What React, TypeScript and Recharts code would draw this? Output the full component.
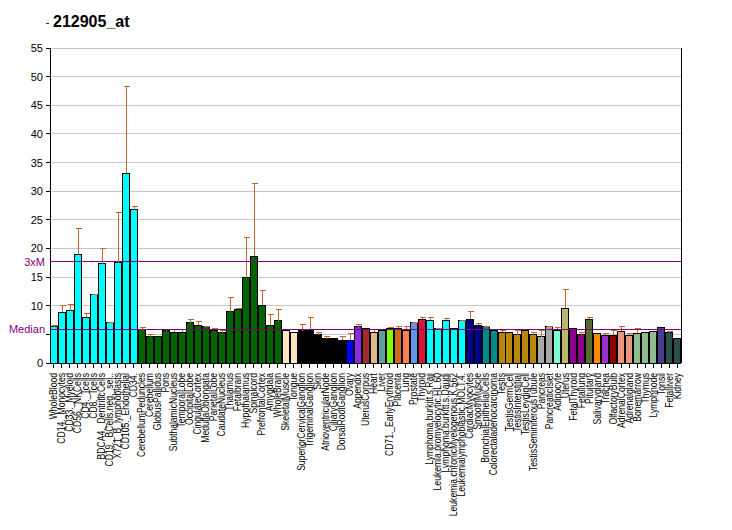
import React from "react";
import {
  BarChart,
  Bar,
  XAxis,
  YAxis,
  CartesianGrid,
  ReferenceLine,
} from "recharts";

// tissue names as printed under the bars
const tissues = [
  "WholeBlood", "CD14._Monocytes", "CD33._Myeloid", "CD56._NKCells", "CD4._Tcells",
  "CD8._Tcells", "BDCA4._DentriticCells", "CD19._BCells.neg._sel..", "X721_B_lymphoblasts",
  "CD105._Endothelial", "CD34.", "CerebellumPeduncles", "Cerebellum", "GlobusPallidus",
  "Pons", "SubthalamicNucleus", "TemporalLobe", "OccipitalLobe", "CingulateCortex",
  "MedullaOblongata", "ParietalLobe", "CaudateNucleus", "Thalamus", "Fetalbrain",
  "Hypothalamus", "Spinalcord", "PrefrontalCortex", "Amygdala", "WholeBrain",
  "SkeletalMuscle", "Tongue", "SuperiorCervicalGanglion", "TrigeminalGanglion", "Skin",
  "AtrioventricularNode", "CiliaryGanglion", "DorsalRootGanglion", "Ovary", "Appendix",
  "UterusCorpus", "Heart", "Liver", "CD71._EarlyErythroid", "Placenta", "Lung",
  "Prostate", "Thyroid", "Lymphoma.burkitt.s.Raji", "Leukemia.promyelocytic.HL.60",
  "Lymphoma.burkitt.s.Daudi", "Leukemia.chronicMyelogenous.K.562",
  "Leukemialymphoblastic.MOLT.4.", "CardiacMyocytes", "SmoothMuscle",
  "BronchialEpithelialCells", "Colorectaladenocarcinoma", "Testis", "TestisGermCell",
  "TestisInterstitial", "TestisLeydigCell", "TestisSeminiferousTubule", "Pancreas",
  "PancreaticIslet", "Adipocyte", "Uterus", "FetalThyroid", "Fetallung", "Pituitary",
  "Salivarygland", "Trachea", "OlfactoryBulb", "AdrenalCortex", "Adrenalgland",
  "Bonemarrow", "Thymus", "Lymphnode", "Tonsil", "Fetalliver", "Kidney",
];

// expression values (bar heights)
const values = [
  6.3, 8.9, 9.1, 18.9, 8.0, 11.9, 17.3, 7.0, 17.5, 33.1, 26.8,
  5.9, 4.55, 4.7, 5.6, 5.4, 5.4, 7.0, 6.6, 6.3, 5.75, 5.25, 8.95, 9.4,
  14.9, 18.65, 10.1, 6.6, 7.35,
  5.7, 5.4, 5.6, 5.75, 4.9, 4.2, 4.2, 4.0, 3.95, 6.3, 5.95, 5.4, 5.6,
  6.05, 6.05, 5.75, 7.0, 7.65, 7.45, 5.95, 7.45, 5.95, 7.35, 7.65, 6.6,
  6.3, 5.75, 5.4, 5.4, 4.9, 5.75, 4.9, 4.55, 6.3, 5.75, 9.55, 6.05, 4.9,
  7.65, 5.2, 4.85, 4.85, 5.55, 4.85, 5.2, 5.35, 5.55, 6.2, 5.25, 4.3,
];

// upper error (distance above bar top)
const errors = [
  0.2, 1.1, 1.1, 4.6, 0.7, 0.1, 2.7, 0.15, 8.8, 15.1, 0.5,
  0.3, 0.35, 0, 0.2, 0.4, 0.4, 0.6, 0.7, 0.15, 0.3, 0.45, 2.55, 0.2,
  7.0, 12.65, 2.6, 1.9, 1.95,
  0, 0, 1.2, 2.25, 0.45, 0.45, 0, 0.7, 1.25, 0.35, 0, 0.5, 0,
  0.15, 0.4, 0.55, 0.15, 0.35, 0.55, 0.1, 0.35, 0, 0.1, 1.35, 0.3,
  0.1, 0, 0.3, 0, 0.85, 0, 0.45, 1.2, 0.1, 0.45, 3.35, 0, 0.45,
  0.35, 0, 0.35, 0.75, 0.85, 0.35, 0.85, 0, 0, 0, 0.3, 0,
];

// colour groups: [count, colour]
const colorGroups: [number, string][] = [
  [11, "#00FFFF"], [18, "#006400"], [2, "#FFE4C4"], [6, "#000000"],
  [1, "#0000FF"], [1, "#8A2BE2"], [1, "#A52A2A"], [1, "#DEB887"],
  [1, "#5F9EA0"], [1, "#7FFF00"], [1, "#D2691E"], [1, "#FF7F50"],
  [1, "#6495ED"], [1, "#DC143C"], [5, "#00FFFF"], [2, "#00008B"],
  [2, "#008B8B"], [5, "#B8860B"], [2, "#A9A9A9"], [1, "#7FFFD4"],
  [1, "#BDB76B"], [2, "#8B008B"], [1, "#556B2F"], [1, "#FF8C00"],
  [1, "#9932CC"], [1, "#8B0000"], [2, "#E9967A"], [3, "#8FBC8F"],
  [1, "#483D8B"], [2, "#2F4F4F"],
];

const yTicks = [0, 5, 10, 15, 20, 25, 30, 35, 40, 45, 50, 55];
const median = 5.9;
const threeXM = 17.7;

const ERR = "#C8642D";
const PURPLE = "#800080";
const FONT = "Arial, 'Liberation Sans', sans-serif";

const colors = colorGroups.flatMap(([n, c]) => Array(n).fill(c));
const data = tissues.map((name, i) => ({
  name,
  value: values[i],
  err: errors[i],
  color: colors[i],
}));

function BarWithWhisker(props: any) {
  const { x, y, width, height, payload } = props;
  const k = payload.value > 0 ? height / payload.value : 0;
  const up = payload.err * k;
  const cx = Math.round(x + width / 2) + 0.5;
  return (
    <g shapeRendering="crispEdges">
      <rect x={x} y={y} width={width} height={height} fill={payload.color} stroke="#000" strokeWidth={1} />
      {up > 0.3 && (
        <g stroke={ERR} strokeWidth={1}>
          <line x1={cx} x2={cx} y1={y} y2={y - up} />
          <line x1={cx - 3} x2={cx + 3} y1={y - up} y2={y - up} />
        </g>
      )}
    </g>
  );
}

function TissueTick(props: any) {
  const { x, y, payload } = props;
  return (
    <text
      transform={`translate(${x + 3.5},${y + 3}) rotate(-90) scale(0.86,1)`}
      textAnchor="end"
      fontSize={10}
      fontFamily={FONT}
      fill="#000"
    >
      {payload.value}
    </text>
  );
}

function LeftTick(props: any) {
  const { x, y, payload } = props;
  if (payload.value === 5) return null;
  return (
    <text x={x - 1} y={y + 4} textAnchor="end" fontSize={11} fontFamily={FONT} fill="#000">
      {payload.value}
    </text>
  );
}

function RightTick(props: any) {
  const { x, y, payload } = props;
  return (
    <text x={x + 1} y={y + 4} textAnchor="start" fontSize={11} fontFamily={FONT} fill="#000">
      {payload.value}
    </text>
  );
}

export default function App() {
  return (
    <div style={{ position: "absolute", left: 0, top: 0, width: 732, height: 530, background: "#fff" }}>
      <div style={{ position: "absolute", left: 46, top: 23, width: 3, height: 1, background: PURPLE }} />
      <div
        style={{
          position: "absolute",
          left: 53,
          top: 12,
          fontFamily: FONT,
          fontWeight: "bold",
          fontSize: 16,
          lineHeight: "20px",
        }}
      >
        212905_at
      </div>
      <BarChart
        width={732}
        height={530}
        data={data}
        margin={{ top: 48, right: 0, bottom: 0, left: 0 }}
        barCategoryGap="9%"
        style={{ shapeRendering: "crispEdges" }}
      >
        <CartesianGrid vertical={false} stroke="#C8C8C8" />
        <XAxis
          dataKey="name"
          interval={0}
          height={167}
          tick={<TissueTick />}
          tickSize={5}
          axisLine={{ stroke: "#000" }}
          tickLine={{ stroke: "#000" }}
        />
        <YAxis
          domain={[0, 55]}
          ticks={yTicks}
          width={50}
          tickSize={4}
          tick={<LeftTick />}
          axisLine={{ stroke: "#000" }}
          tickLine={{ stroke: "#000" }}
        />
        <YAxis
          yAxisId="r"
          orientation="right"
          domain={[0, 55]}
          ticks={yTicks}
          width={51}
          tickSize={4}
          tick={<RightTick />}
          axisLine={{ stroke: "#000" }}
          tickLine={{ stroke: "#000" }}
        />
        <Bar dataKey="value" shape={<BarWithWhisker />} isAnimationActive={false} />
        <ReferenceLine
          y={threeXM}
          stroke={PURPLE}
          label={{ value: "3xM", position: "left", fill: PURPLE, fontSize: 11, fontFamily: FONT }}
        />
        <ReferenceLine
          y={median}
          stroke={PURPLE}
          label={{ value: "Median", position: "left", fill: PURPLE, fontSize: 11, fontFamily: FONT }}
        />
      </BarChart>
    </div>
  );
}
